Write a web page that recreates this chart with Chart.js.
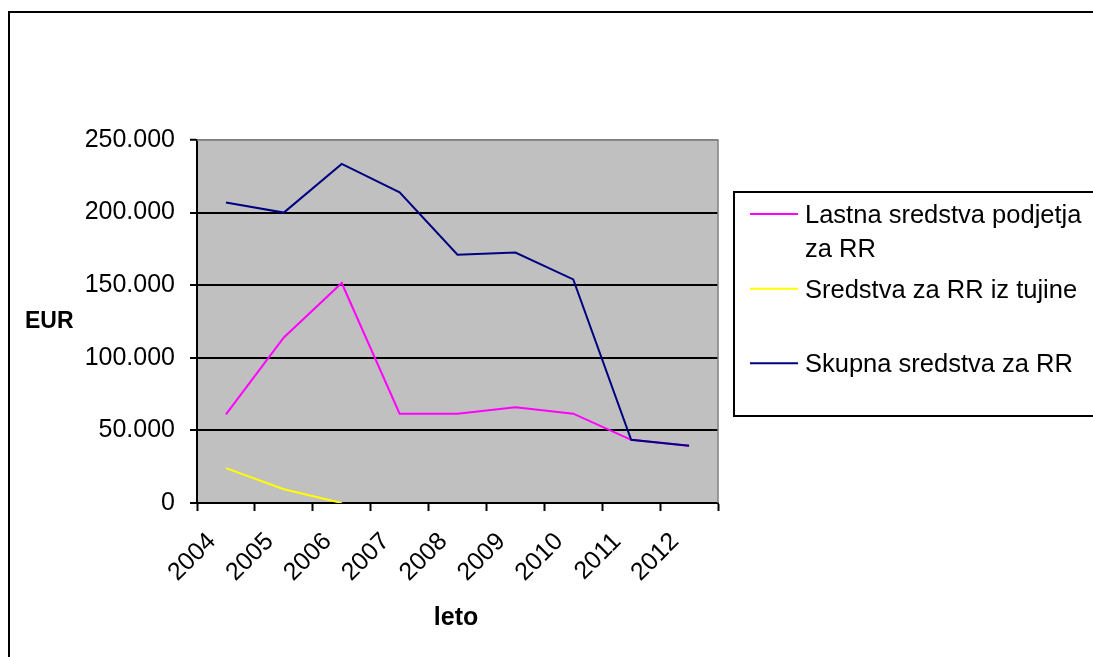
<!DOCTYPE html>
<html>
<head>
<meta charset="utf-8">
<script src="https://cdn.jsdelivr.net/npm/chart.js@4/dist/chart.umd.min.js"></script>
<style>
  html, body { margin: 0; padding: 0; background: #fff; overflow: hidden; }
  #wrap { width: 1093px; height: 657px; position: relative; }
  canvas { display: block; }
</style>
</head>
<body>
<div id="wrap"><canvas id="chart" width="1093" height="657"></canvas></div>
<script>
// Years on the category axis
const years = ['2004', '2005', '2006', '2007', '2008', '2009', '2010', '2011', '2012'];

// R&D funding in EUR (foreign funding is only shown up to 2006)
const lastnaSredstva = [61000, 114000, 151500, 61500, 61500, 66000, 61500, 43500, 39500];
const tujaSredstva   = [24000, 9500, 0, null, null, null, null, null, null];
const skupnaSredstva = [207000, 200000, 233500, 214000, 171000, 172500, 154000, 43500, 39500];

// Series names and colours
const seriesNames  = ['Lastna sredstva podjetja za RR', 'Sredstva za RR iz tujine', 'Skupna sredstva za RR'];
const seriesColors = ['#FF00FF', '#FFFF00', '#000080'];

// Value axis ticks and axis titles
const yTickValues = [0, 50000, 100000, 150000, 200000, 250000];
const yTitle = 'EUR';
const xTitle = 'leto';

const FONT = '"Liberation Sans", Arial, Helvetica, sans-serif';
Chart.defaults.font.family = FONT;
Chart.defaults.color = '#000';

function formatThousands(v) {
  return String(v).replace(/\B(?=(\d{3})+(?!\d))/g, '.');
}

// Grey plot area with a thin grey frame on top and right
const plotBackground = {
  id: 'plotBackground',
  beforeDraw(chart) {
    const { ctx, chartArea: a } = chart;
    ctx.save();
    ctx.fillStyle = '#C0C0C0';
    ctx.fillRect(a.left, a.top, a.right - a.left, a.bottom - a.top);
    ctx.restore();
  },
  beforeDatasetsDraw(chart) {
    const { ctx, chartArea: a } = chart;
    ctx.save();
    ctx.strokeStyle = '#808080';
    ctx.lineWidth = 1.5;
    ctx.beginPath();
    ctx.moveTo(a.left, a.top);
    ctx.lineTo(a.right, a.top);
    ctx.lineTo(a.right, a.bottom);
    ctx.stroke();
    ctx.restore();
  }
};

// Outer frame, axis titles and the boxed legend
const frameAndLegend = {
  id: 'frameAndLegend',
  afterDraw(chart) {
    const ctx = chart.ctx;
    ctx.save();

    // outer frame
    ctx.strokeStyle = '#000';
    ctx.lineWidth = 2;
    ctx.strokeRect(9, 12, 1100, 660);

    // axis titles
    ctx.fillStyle = '#000';
    ctx.textBaseline = 'alphabetic';
    ctx.font = 'bold 23px ' + FONT;
    ctx.textAlign = 'left';
    ctx.fillText(yTitle, 25, 328);
    ctx.font = 'bold 25px ' + FONT;
    ctx.textAlign = 'center';
    ctx.fillText(xTitle, 456, 625);

    // legend box
    const box = { left: 734, top: 192, bottom: 416 };
    ctx.strokeStyle = '#000';
    ctx.lineWidth = 2;
    ctx.strokeRect(box.left, box.top, 500, box.bottom - box.top);

    ctx.font = '25.5px ' + FONT;
    ctx.textAlign = 'left';
    const datasets = chart.data.datasets;
    const slot = (box.bottom - box.top) / datasets.length;
    const textX = 805;
    const maxW = 1093 - textX - 2;
    datasets.forEach((ds, i) => {
      // wrap the label into lines that fit the box
      const words = ds.label.split(' ');
      const lines = [];
      let cur = '';
      words.forEach(w => {
        const test = cur ? cur + ' ' + w : w;
        if (cur && ctx.measureText(test).width > maxW) {
          lines.push(cur);
          cur = w;
        } else {
          cur = test;
        }
      });
      if (cur) lines.push(cur);

      const base = box.top + i * slot + 31;
      ctx.strokeStyle = ds.borderColor;
      ctx.lineWidth = 2;
      ctx.beginPath();
      ctx.moveTo(750, base - 9);
      ctx.lineTo(798, base - 9);
      ctx.stroke();

      ctx.fillStyle = '#000';
      lines.forEach((ln, k) => ctx.fillText(ln, textX, base + k * 34));
    });
    ctx.restore();
  }
};

const series = [lastnaSredstva, tujaSredstva, skupnaSredstva];
const drawOrder = [1, 2, 0];

new Chart(document.getElementById('chart'), {
  type: 'line',
  data: {
    labels: years,
    datasets: series.map((values, i) => ({
      label: seriesNames[i],
      data: values,
      borderColor: seriesColors[i],
      backgroundColor: seriesColors[i],
      borderWidth: 2,
      pointRadius: 0,
      tension: 0,
      fill: false,
      spanGaps: false,
      order: drawOrder[i]
    }))
  },
  options: {
    responsive: false,
    animation: false,
    devicePixelRatio: 1,
    layout: { padding: { left: 0, top: 140, right: 375, bottom: 0 } },
    plugins: {
      legend: { display: false },
      tooltip: { enabled: false },
      title: { display: false }
    },
    scales: {
      x: {
        type: 'category',
        offset: true,
        z: 1,
        grid: {
          offset: true,
          drawOnChartArea: false,
          drawTicks: true,
          tickLength: 8,
          tickColor: '#000',
          tickWidth: 2
        },
        border: { display: true, color: '#000', width: 2 },
        ticks: {
          autoSkip: false,
          minRotation: 45,
          maxRotation: 45,
          padding: 16,
          labelOffset: -14,
          color: '#000',
          font: { size: 25 }
        },
        afterFit(scale) { scale.height = 154; }
      },
      y: {
        min: 0,
        max: 250000,
        afterBuildTicks(scale) {
          scale.ticks = yTickValues.map(v => ({ value: v }));
        },
        grid: {
          color: c => (c.tick && c.tick.value === 250000) ? '#808080' : '#000',
          lineWidth: c => (c.tick && c.tick.value === 250000) ? 1.5 : 2,
          drawTicks: true,
          tickLength: 7,
          tickColor: '#000',
          tickWidth: 2
        },
        border: { display: true, color: '#000', width: 2 },
        ticks: {
          padding: 15,
          color: '#000',
          font: { size: 25 },
          callback: v => formatThousands(v)
        },
        afterFit(scale) { scale.width = 197; }
      }
    }
  },
  plugins: [plotBackground, frameAndLegend]
});
</script>
</body>
</html>
